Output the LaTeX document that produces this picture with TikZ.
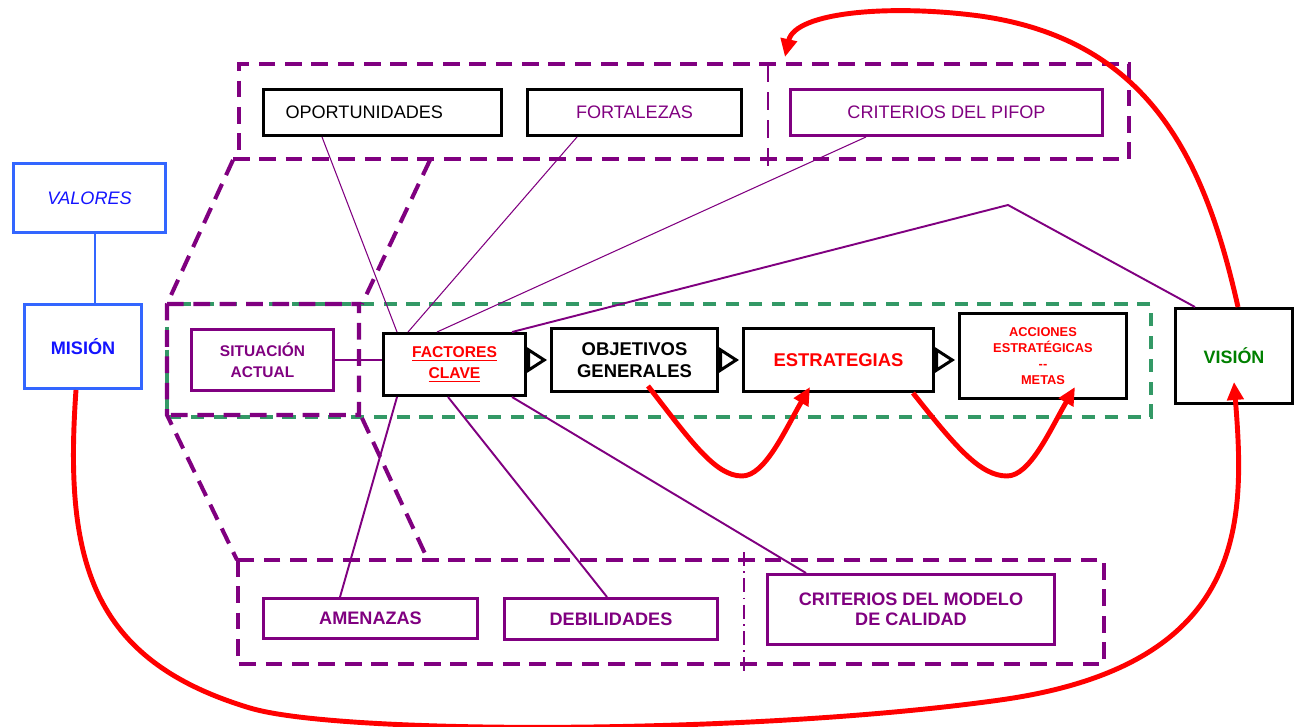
\documentclass[tikz,border=0pt]{standalone}
\usepackage{fontspec}
\setmainfont{Liberation Sans}
\usetikzlibrary{arrows.meta}
\definecolor{violeta}{RGB}{128,0,128}
\definecolor{azulborde}{RGB}{51,102,255}
\definecolor{azul}{RGB}{20,20,255}
\definecolor{verde}{RGB}{0,128,0}
\definecolor{verdeclaro}{RGB}{51,153,102}
\definecolor{rojo}{RGB}{255,0,0}
\newcommand{\tamano}[2]{\fontsize{#1}{#2}\selectfont}

\begin{document}
\begin{tikzpicture}[x=0.02cm, y=-0.02cm,
    box/.style={draw, line width=1.7pt, fill=white, align=center, inner sep=0pt},
    negro/.style={box, draw=black},
    morado/.style={box, draw=violeta, text=violeta},
    azulbox/.style={box, draw=azulborde, text=azul},
    grupo/.style={draw=violeta, line width=2.3pt, dash pattern=on 9.5pt off 5.5pt},
    divisor/.style={draw=violeta, line width=1.5pt, dash pattern=on 10pt off 6pt},
    zona/.style={draw=verdeclaro, line width=2.3pt, dash pattern=on 7.5pt off 5.5pt},
    enlace/.style={draw=violeta, line width=0.6pt},
    enlacegr/.style={draw=violeta, line width=1.1pt},
    flecha/.style={-{Triangle[open, length=0.4cm, width=0.5cm]}, line width=1.7pt, shorten >=0.06cm},
    curva/.style={draw=rojo, line width=2.8pt, -{Triangle[length=0.36cm, width=0.32cm]}}]
    \useasboundingbox (0,0) rectangle (1296,727);
    \draw[zona] (167,304) rectangle (1151,417);
    \draw[grupo] (233,159) -- (1129,159) -- (1129,64) -- (239,64) -- (239,159);
    \draw[divisor] (768,64) -- (768,168);
    \draw[grupo] (233,160) -- (167,304) -- (167,415) -- (237,560);
    \draw[grupo] (430,160) -- (362,304) (167,304) -- (359,304) -- (359,415) -- (167,415);
    \draw[grupo] (362,418) -- (428,560);
    \draw[grupo] (238,560) rectangle (1104,664);
    \draw[violeta, line width=1.1pt, dash pattern=on 8pt off 3pt on 1pt off 3pt] (744,552) -- (744,672);
    \node[azulbox, minimum width=3.04cm, minimum height=1.38cm, font=\tamano{10.3}{12}\itshape] (valores) at (89.5,198) {VALORES};
    \node[azulbox, minimum width=2.34cm, minimum height=1.68cm, font=\tamano{10.3}{12}\bfseries] (mision) at (83,346.5) {MISIÓN};
    \node[negro, minimum width=4.76cm, minimum height=0.92cm, text width=3.88cm, inner xsep=0.44cm, align=left, font=\tamano{10.3}{12}] (opor) at (382.5,112.5) {OPORTUNIDADES};
    \node[negro, text=violeta, minimum width=4.28cm, minimum height=0.92cm, font=\tamano{10.3}{12}] (fort) at (634.5,112.5) {FORTALEZAS};
    \node[morado, minimum width=6.24cm, minimum height=0.92cm, font=\tamano{10.3}{12}] (pifop) at (946.5,112.5) {CRITERIOS DEL PIFOP};
    \node[morado, minimum width=2.84cm, minimum height=1.22cm, font=\tamano{8.8}{11.9}\bfseries] (situ) at (262.5,360) {SITUACIÓN\\ACTUAL};
    \node[negro, text=rojo, minimum width=2.84cm, minimum height=1.24cm, font=\tamano{8.9}{11.9}\bfseries] (factores) at (454.5,364.5) {\underline{FACTORES}\\\underline{CLAVE}};
    \node[negro, minimum width=3.32cm, minimum height=1.26cm, font=\tamano{10.5}{12.3}\bfseries] (obj) at (634.5,360) {OBJETIVOS\\GENERALES};
    \node[negro, text=rojo, minimum width=3.80cm, minimum height=1.26cm, font=\tamano{10.5}{12.3}\bfseries] (estr) at (838.5,360) {ESTRATEGIAS};
    \node[negro, text=rojo, minimum width=3.34cm, minimum height=1.70cm, font=\tamano{7.3}{9}\bfseries] (acc) at (1043,356) {ACCIONES\\ESTRATÉGICAS\\-{}-\\METAS};
    \node[negro, text=verde, minimum width=2.34cm, minimum height=1.90cm, font=\tamano{10.2}{12}\bfseries] (vision) at (1234,356) {VISIÓN};
    \node[morado, minimum width=4.28cm, minimum height=0.80cm, font=\tamano{10.3}{12}\bfseries] (amen) at (370.5,618.5) {AMENAZAS};
    \node[morado, minimum width=4.26cm, minimum height=0.82cm, font=\tamano{10.3}{12}\bfseries] (debil) at (611,619) {DEBILIDADES};
    \node[morado, minimum width=5.74cm, minimum height=1.40cm, font=\tamano{10.3}{11.3}\bfseries] (modelo) at (911,609.5) {CRITERIOS DEL MODELO\\DE CALIDAD};
    \coordinate (pico) at (1008,205);
    \coordinate (punta) at (785,57);
    \draw[azulborde, line width=1.1pt] ([xshift=0.11cm]valores.south) -- ([xshift=0.11cm]valores.south |- mision.north);
    \path[enlace]
    ([xshift=1.2cm]opor.south west) edge ([xshift=0.3cm]factores.north west)
    ([xshift=1.02cm]fort.south west) edge ([xshift=0.52cm]factores.north west)
    ([xshift=1.54cm]pifop.south west) edge ([xshift=1.1cm]factores.north west)
    ;
    \draw[enlacegr] ([xshift=2.6cm]factores.north west) -- (pico) -- ([xshift=0.42cm]vision.north west);
    \path[enlacegr]
    (situ.east) edge (situ.east -| factores.west)
    ([xshift=0.3cm]factores.south west) edge ([xshift=1.56cm]amen.north west)
    ([xshift=1.32cm]factores.south west) edge ([xshift=2.08cm]debil.north west)
    ([xshift=2.6cm]factores.south west) edge ([xshift=0.8cm]modelo.north west)
    ;
    \path[flecha]
    (obj.west -| factores.east) edge (obj.west)
    (obj.east) edge (obj.east -| estr.west)
    (estr.east) edge (estr.east -| acc.west)
    ;
    \draw[curva] ([xshift=0.08cm]vision.north) .. controls (1205,160) and (1150,40) .. (980,16) .. controls (890,4) and (795,12) .. (punta);
    \draw[curva] ([xshift=-0.14cm]mision.south) .. controls (64,560) and (90,660) .. (250,708) .. controls (340,735) and (750,735) .. (1000,700) .. controls (1250,665) and (1245,520) .. ([yshift=0.46cm]vision.south);
    \draw[curva] ([xshift=0.27cm, yshift=0.14cm]obj.south) .. controls (690,440) and (715,476) .. (742,476) .. controls (765,476) and (785,430) .. ([xshift=-0.57cm, yshift=0.12cm]estr.south);
    \draw[curva] ([xshift=1.49cm]estr.south) .. controls (955,446) and (980,476) .. (1007,476) .. controls (1030,476) and (1050,430) .. ([xshift=0.64cm, yshift=0.26cm]acc.south);
\end{tikzpicture}
\end{document}
